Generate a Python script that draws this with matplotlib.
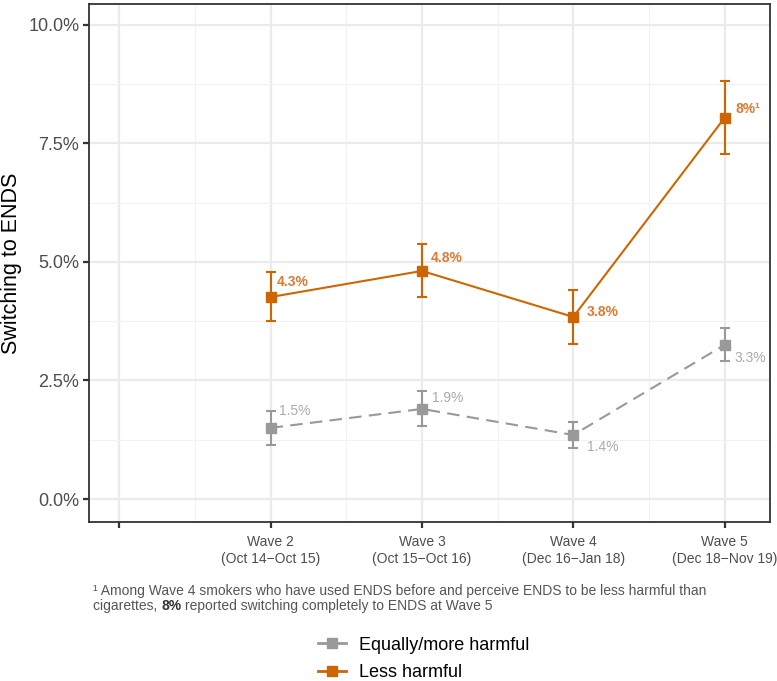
import matplotlib
matplotlib.use("Agg")
import matplotlib.pyplot as plt
from matplotlib.lines import Line2D
import numpy as np

plt.rcParams['font.family'] = ['Liberation Sans', 'DejaVu Sans']

# ---- data ----
categories = ["", "Wave 2\n(Oct 14\u2212Oct 15)", "Wave 3\n(Oct 15\u2212Oct 16)",
              "Wave 4\n(Dec 16\u2212Jan 18)", "Wave 5\n(Dec 18\u2212Nov 19)"]
waves = ["Wave 2", "Wave 3", "Wave 4", "Wave 5"]

less_harmful = [4.26, 4.81, 3.84, 8.04]
less_lo = [3.76, 4.26, 3.27, 7.28]
less_hi = [4.79, 5.38, 4.41, 8.82]
less_labels = ["4.3%", "4.8%", "3.8%", "8%\u00b9"]

equal_more = [1.50, 1.90, 1.35, 3.25]
equal_lo = [1.14, 1.54, 1.08, 2.91]
equal_hi = [1.86, 2.28, 1.62, 3.61]
equal_labels = ["1.5%", "1.9%", "1.4%", "3.3%"]

y_ticks = [0, 2.5, 5.0, 7.5, 10.0]
y_tick_labels = ["0.0%", "2.5%", "5.0%", "7.5%", "10.0%"]

# label offsets (points)
less_offsets = [(4.5, 11), (6.5, 9), (10, 3.5), (7.5, 6.5)]
equal_offsets = [(6, 12), (7.5, 8), (10, -9), (7, -9.5)]

ORANGE = "#CD6600"
ORANGE_TXT = "#DD7A35"
GRAY = "#999999"
GRAY_TXT = "#AAAAAA"

W, H = 777, 681
fig = plt.figure(figsize=(W / 100, H / 100), dpi=100)
ax = fig.add_axes([89 / W, 1 - 522 / H, (770 - 89) / W, (522 - 4) / H])

xpos = np.arange(len(categories))
xd = xpos[1:]

# grid
ax.set_xticks(xpos)
ax.set_xticks(xpos[:-1] + 0.5, minor=True)
ax.set_yticks(y_ticks)
ax.set_yticks(np.array(y_ticks[:-1]) + 1.25, minor=True)
ax.grid(True, which='major', color='#EBEBEB', linewidth=1.6, zorder=0)
ax.grid(True, which='minor', color='#F2F2F2', linewidth=0.8, zorder=0)
ax.set_axisbelow(True)

# series
def yerr(v, lo, hi):
    v, lo, hi = map(np.asarray, (v, lo, hi))
    return np.vstack([v - lo, hi - v])

ax.errorbar(xd, equal_more, yerr=yerr(equal_more, equal_lo, equal_hi), fmt='none',
            ecolor=GRAY, elinewidth=1.5, capsize=3.3, capthick=1.5, zorder=3)
ax.plot(xd, equal_more, color=GRAY, lw=1.5, dashes=(6, 3.5), marker='s',
        markersize=7.5, zorder=4)
ax.errorbar(xd, less_harmful, yerr=yerr(less_harmful, less_lo, less_hi), fmt='none',
            ecolor=ORANGE, elinewidth=1.5, capsize=3.3, capthick=1.5, zorder=3)
ax.plot(xd, less_harmful, color=ORANGE, lw=1.5, marker='s', markersize=7.5, zorder=4)

for x, v, lab, off in zip(xd, less_harmful, less_labels, less_offsets):
    ax.annotate(lab, (x, v), xytext=off, textcoords='offset points',
                color=ORANGE_TXT, fontsize=10, fontweight='bold',
                ha='left', va='center', zorder=5)
for x, v, lab, off in zip(xd, equal_more, equal_labels, equal_offsets):
    ax.annotate(lab, (x, v), xytext=off, textcoords='offset points',
                color=GRAY_TXT, fontsize=10, ha='left', va='center', zorder=5)

ax.set_xlim(-0.2, 4.3)
ax.set_ylim(-0.485, 10.44)
ax.set_xticklabels(categories, fontsize=10, color='#4D4D4D', linespacing=1.35)
ax.set_yticklabels(y_tick_labels, fontsize=13, color='#4D4D4D')
ax.tick_params(which='major', length=4, width=1.6, color='#333333')
ax.tick_params(axis='y', which='major', pad=3)
ax.tick_params(axis='x', which='major', pad=5)
ax.tick_params(which='minor', length=0)
for s in ax.spines.values():
    s.set_color('#333333')
    s.set_linewidth(1.3)
ax.set_ylabel("Switching to ENDS", fontsize=15.5, color='black')
ax.yaxis.set_label_coords(-0.098, 0.5)

# footnote
fs_note = 10
note_col = '#555555'
fig.text(93 / W, 1 - 591 / H,
         "\u00b9 Among Wave 4 smokers who have used ENDS before and perceive ENDS to be less harmful than",
         fontsize=fs_note, color=note_col, ha='left', va='center')
fig.canvas.draw()
r = fig.canvas.get_renderer()
y2 = 1 - 606 / H
t1 = fig.text(93 / W, y2, "cigarettes, ", fontsize=fs_note, color=note_col, ha='left', va='center')
x_px = t1.get_window_extent(r).x1
t2 = fig.text(x_px / W, y2, "8%", fontsize=fs_note, color='#333333', fontweight='bold',
              ha='left', va='center')
x_px = t2.get_window_extent(r).x1
fig.text(x_px / W, y2, " reported switching completely to ENDS at Wave 5",
         fontsize=fs_note, color=note_col, ha='left', va='center')

# legend
handles = [
    Line2D([], [], color=GRAY, lw=2, marker='s', markersize=7),
    Line2D([], [], color=ORANGE, lw=2, marker='s', markersize=7),
]
fig.legend(handles, ["Equally/more harmful", "Less harmful"], loc='center left',
           bbox_to_anchor=(309 / W, 1 - 659 / H), frameon=False, fontsize=13,
           handlelength=1.55, handletextpad=0.7, labelspacing=0.6, borderpad=0)

fig.savefig("out.png", dpi=100)
